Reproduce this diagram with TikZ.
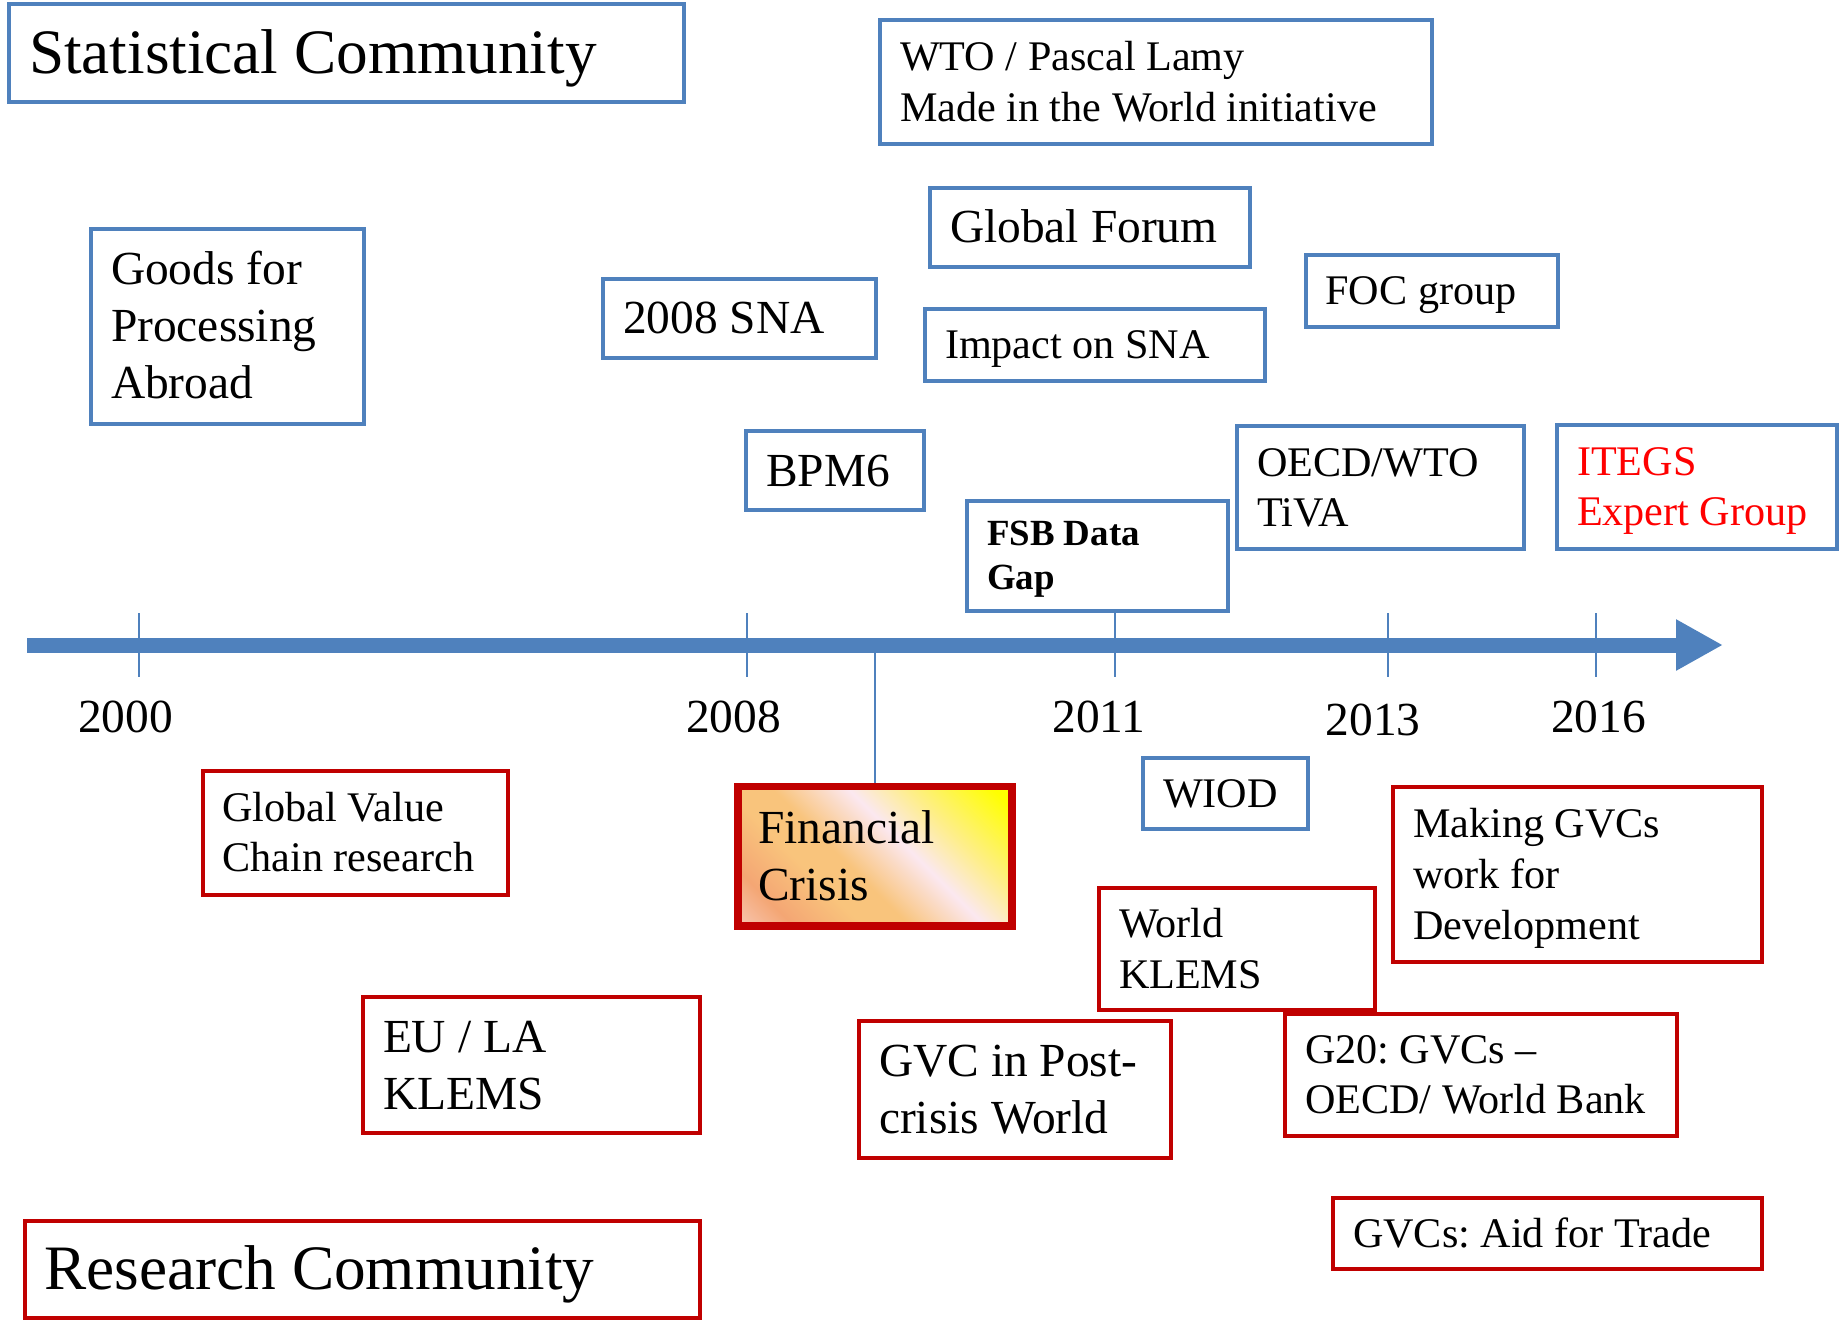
\documentclass[tikz,border=0pt]{standalone}
\usepackage{fontspec}
\setmainfont{Liberation Serif}
\frenchspacing
\definecolor{statblue}{RGB}{79,129,189}
\definecolor{resred}{RGB}{192,0,0}
\definecolor{itegsred}{RGB}{255,0,0}
\definecolor{firepink}{RGB}{251,232,240}
\definecolor{firesalmon}{RGB}{244,166,116}
\definecolor{firepeach}{RGB}{249,196,124}
\definecolor{firelight}{RGB}{254,238,140}
\usetikzlibrary{arrows.meta, positioning}
\pgfdeclarehorizontalshading{crisisfire}{100bp}{color(0bp)=(firepink); color(5bp)=(firepink); color(24bp)=(firesalmon); color(36bp)=(firepeach); color(44bp)=(firepeach); color(57bp)=(firepink); color(67bp)=(firelight); color(82bp)=(yellow); color(100bp)=(yellow)}

\begin{document}
\begin{tikzpicture}[
  x=0.1mm, y=-0.1mm,
  big/.style={font=\fontsize{18}{21.6}\selectfont, text height=11.9pt, text depth=0pt},
  mid/.style={font=\fontsize{13.5}{16.2}\selectfont, text height=8.9pt, text depth=0pt},
  small/.style={font=\fontsize{12}{14.4}\selectfont, text height=7.9pt, text depth=0pt},
  statbox/.style={draw=statblue, line width=0.4mm, fill=white, inner xsep=2mm, inner ysep=0pt, align=flush left},
  resbox/.style={draw=resred, line width=0.4mm, fill=white, inner xsep=2mm, inner ysep=0pt, align=flush left},
  year/.style={font=\fontsize{13.5}{16.2}\selectfont, anchor=base, inner sep=0pt},
  tick/.style={draw=statblue, line width=0.25mm},
  timeline/.style={draw=statblue, line width=1.5mm, -{Triangle[length=4.7mm, width=4.8mm]}}
]
  \useasboundingbox (0,0) rectangle (1839,1320);

  \draw[timeline] (27,645) -- (1723,645);
  \foreach \tx in {139,747,1115,1388,1596}
    \draw[tick] (\tx,613) -- (\tx,677);
  \foreach \yr/\xx/\bb in {2000/125.5/732.4, 2008/733.5/732.4, 2011/1099/732.4, 2013/1373/735.8, 2016/1598.5/732.4}
    \node[year] (Y\yr) at (\xx,\bb) {\yr};

  \node[statbox, big, minimum width=67.5mm, minimum height=9.85mm, text width=63.5mm] (SC) at (346.5,52.75) {Statistical Community};
  \node[statbox, small, text depth=14.4pt, minimum width=55.2mm, minimum height=12.4mm, text width=51.2mm] (WTO) at (1156,82) {WTO / Pascal Lamy\\Made in the World initiative};
  \node[statbox, mid, text depth=32.4pt, minimum width=27.3mm, minimum height=19.55mm, text width=23.3mm] (GPA) at (227.5,326.25) {Goods for\\Processing\\Abroad};
  \node[statbox, mid, minimum width=27.3mm, minimum height=7.95mm, text width=23.3mm] (SNA) at (739.5,318.25) {2008 SNA};
  \node[statbox, mid, minimum width=32mm, minimum height=7.85mm, text width=28mm] (GF) at (1090,227.25) {Global Forum};
  \node[statbox, small, minimum width=33.95mm, minimum height=7.2mm, text width=29.95mm] (IMP) at (1094.75,344.5) {Impact on SNA};
  \node[statbox, small, minimum width=25.25mm, minimum height=7.2mm, text width=21.25mm] (FOC) at (1431.75,291) {FOC group};
  \node[statbox, mid, minimum width=17.8mm, minimum height=7.9mm, text width=13.8mm] (BPM) at (835,470.5) {BPM6};
  \node[statbox, font=\fontsize{10.5}{12.6}\selectfont\bfseries, text height=7pt, text depth=12.6pt, minimum width=26.05mm, minimum height=11mm, text width=22.05mm] (FSB) at (1097.25,555.5) {FSB Data\\Gap};
  \node[statbox, small, text depth=14.4pt, minimum width=28.7mm, minimum height=12.3mm, text width=24.7mm] (TIVA) at (1380.5,487.5) {OECD/WTO\\TiVA};
  \node[statbox, small, text depth=14.4pt, text=itegsred, minimum width=27.95mm, minimum height=12.35mm, text width=23.95mm] (ITEGS) at (1696.75,486.75) {ITEGS\\Expert Group};
  \node[statbox, small, minimum width=16.5mm, minimum height=7.15mm, text width=12.5mm] (WIOD) at (1225.5,793.25) {WIOD};

  \node[resbox, small, text depth=14.4pt, minimum width=30.55mm, minimum height=12.45mm, text width=26.55mm] (GVCR) at (355.25,832.75) {Global Value\\Chain research};
  \node[resbox, mid, text depth=16.2pt, line width=0.75mm, shade, shading=crisisfire, shading angle=45, minimum width=27.4mm, minimum height=13.95mm, text width=23.4mm] (FC) at (875,856.25) {Financial\\Crisis};
  \node[resbox, mid, text depth=16.2pt, minimum width=33.65mm, minimum height=13.6mm, text width=29.65mm] (EULA) at (531.25,1065) {EU / LA\\KLEMS};
  \node[resbox, big, minimum width=67.5mm, minimum height=9.7mm, text width=63.5mm] (RC) at (362,1269) {Research Community};
  \node[resbox, mid, text depth=16.2pt, minimum width=31.2mm, minimum height=13.65mm, text width=27.2mm] (PCW) at (1015,1089.25) {GVC in Post-\\crisis World};
  \node[resbox, small, text depth=14.4pt, minimum width=27.6mm, minimum height=12.2mm, text width=23.6mm] (WK) at (1237,949) {World\\KLEMS};
  \node[resbox, small, text depth=28.8pt, minimum width=36.85mm, minimum height=17.5mm, text width=32.85mm] (MGD) at (1577.25,874.5) {Making GVCs\\work for\\Development};
  \node[resbox, small, text depth=14.4pt, minimum width=39.15mm, minimum height=12.2mm, text width=35.15mm] (G20) at (1480.75,1074.5) {G20: GVCs \textendash\\OECD/ World Bank};
  \node[resbox, small, minimum width=42.85mm, minimum height=7.1mm, text width=38.85mm] (AFT) at (1547.25,1233.5) {GVCs: Aid for Trade};

  \coordinate (TFC) at (875,652);
  \draw[tick] (FC.north) -- (TFC);
\end{tikzpicture}
\end{document}
